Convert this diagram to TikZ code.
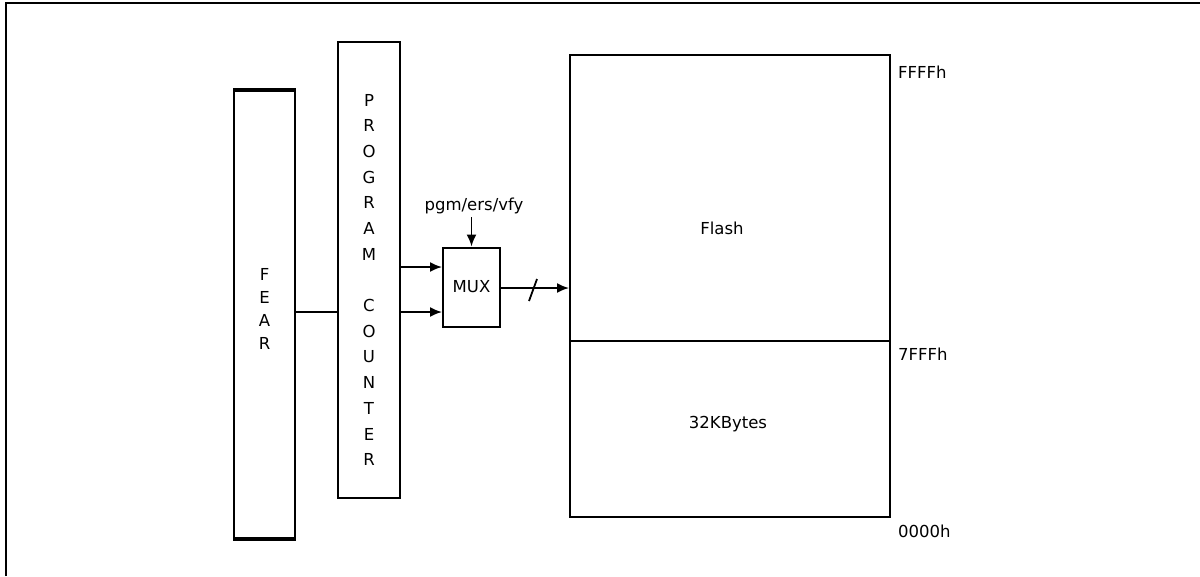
\documentclass[tikz,border=0pt]{standalone}
\usepackage{fontspec}
\setmainfont{DejaVu Sans}
\usetikzlibrary{arrows.meta}
\begin{document}
\begin{tikzpicture}[x=1pt,y=-1pt,
  box/.style={draw, line width=2pt, inner sep=0pt},
  lbl/.style={font=\fontsize{16.5}{16.5}\selectfont, inner sep=0pt},
  conn/.style={line width=1.8pt},
  arr/.style={line width=1.8pt, -{Latex[length=12pt,width=10pt]}}]
\useasboundingbox (0,0) rectangle (1200,576);
\draw[line width=2.2pt] (6,576) -- (6,3) -- (1200,3);
% FEAR
\node[box, minimum width=61pt, minimum height=447pt] (fear) at (264.5,314.5) {};
\draw[line width=3.2pt] (fear.north west) -- (fear.north east);
\draw[line width=3.2pt] (fear.south west) -- (fear.south east);
\foreach \l/\yy [count=\i] in {F/274,E/297,A/320,R/343}
  \node[lbl] (fl\i) at (264.5,\yy) {\l};
% PROGRAM COUNTER
\node[box, minimum width=62pt, minimum height=456pt] (pc) at (369,270) {};
\foreach \l/\k [count=\i] in {P/0,R/1,O/2,G/3,R/4,A/5,M/6,C/8,O/9,U/10,N/11,T/12,E/13,R/14}
  \node[lbl] (pl\i) at (369,100+25.7*\k) {\l};
% MUX
\node[box, minimum width=57pt, minimum height=79pt] (mux) at (471.5,287) {};
\node[lbl] (muxt) at (mux.center) {MUX};
\node[lbl] (pgm) at (474,206) {pgm/ers/vfy};
% Flash memory
\node[box, minimum width=320pt, minimum height=462pt] (flash) at (730,286) {};
\coordinate (divl) at (570,341);
\coordinate (divr) at (890,341);
\draw[line width=2pt] (divl) -- (divr);
\node[lbl] (fl) at (722,228) {Flash};
\node[lbl] (kb) at (728,424) {32KBytes};
\node[lbl, anchor=west] (a1) at (898,72) {FFFFh};
\node[lbl, anchor=west] (a2) at (898,354) {7FFFh};
\node[lbl, anchor=west] (a3) at (898,531) {0000h};
% connectors
\coordinate (yl) at (0,312);
\coordinate (yu) at (0,267);
\coordinate (yo) at (0,288);
\draw[conn] (fear.east |- yl) -- (pc.west |- yl);
\draw[arr] (pc.east |- yl) -- (mux.west |- yl);
\draw[arr] (pc.east |- yu) -- (mux.west |- yu);
\draw[arr] (pgm.south -| mux.north) ++(0,3) -- (mux.north);
\draw[arr] (mux.east |- yo) -- (flash.west |- yo);
\coordinate (s1) at (529,301);
\coordinate (s2) at (537,279);
\draw[conn] (s1) -- (s2);
\end{tikzpicture}
\end{document}
